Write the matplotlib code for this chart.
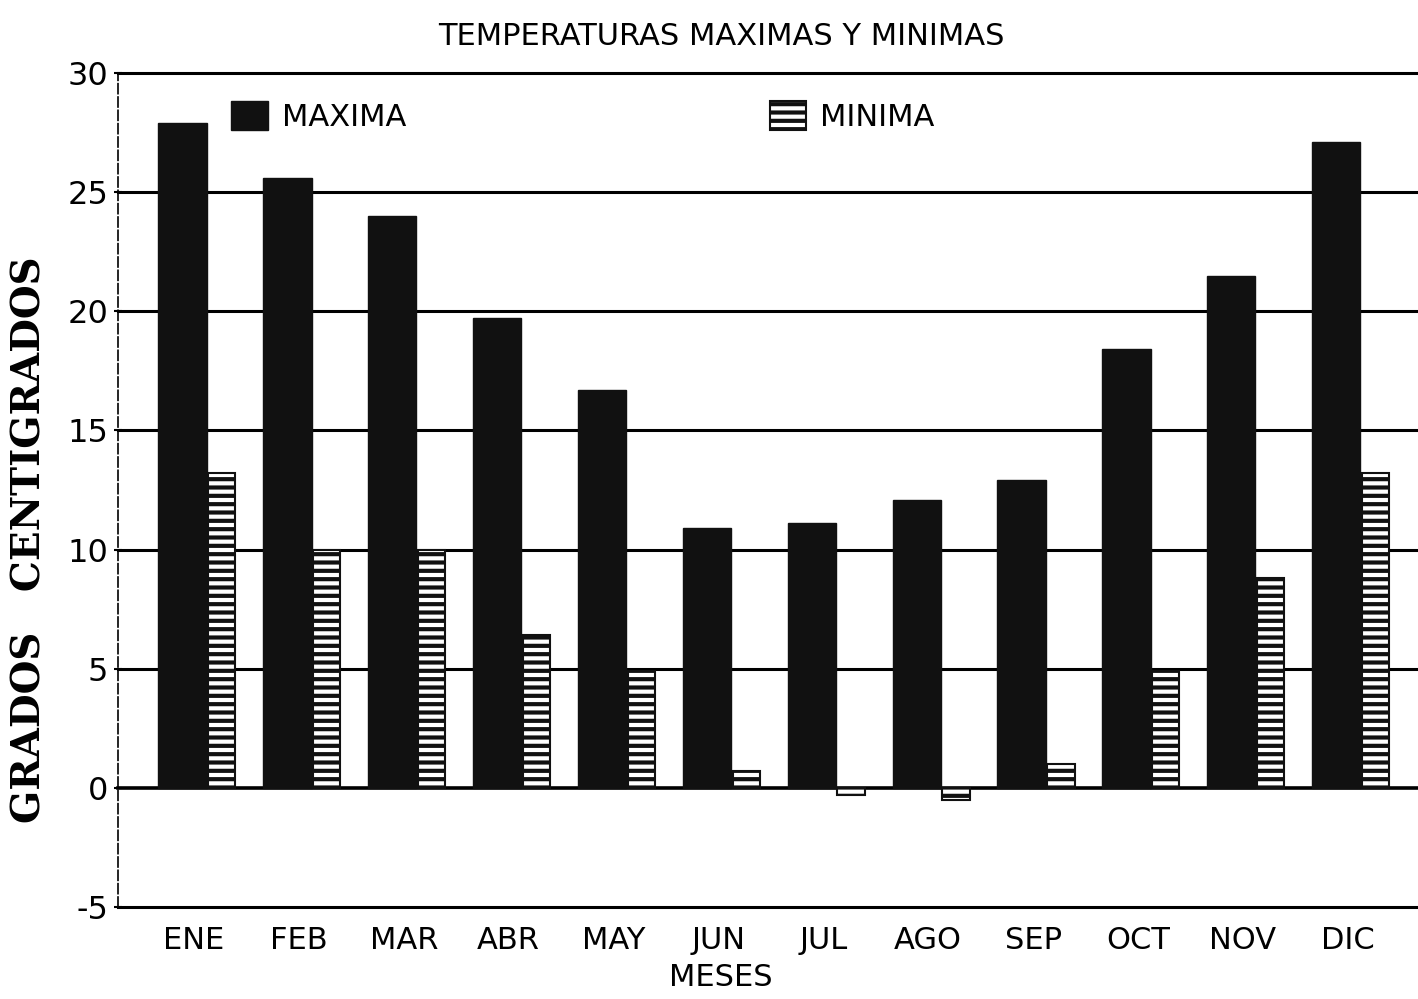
#!/usr/bin/env python
# coding: utf_8

import matplotlib
matplotlib.use("Agg")
import matplotlib.pyplot as plt
import numpy as np

months = ["ENE", "FEB", "MAR", "ABR", "MAY", "JUN",
          "JUL", "AGO", "SEP", "OCT", "NOV", "DIC"]
t_max = [27.9, 25.6, 24.0, 19.7, 16.7, 10.9, 11.1, 12.1, 12.9, 18.4, 21.5, 27.1]
t_min = [13.2, 10.0, 10.0, 6.4, 4.9, 0.7, -0.3, -0.5, 1.0, 4.9, 8.8, 13.2]
y_ticks = [-5, 0, 5, 10, 15, 20, 25, 30]

FONT = ["DejaVu Sans"]

plt.rcParams["hatch.linewidth"] = 3.0

fig = plt.figure(figsize=(14.18, 9.99), dpi=100)
ax = fig.add_axes([118 / 1418, 92 / 999, 1300 / 1418, 834 / 999])

x = np.arange(len(months))
b1 = ax.bar(x - 0.11, t_max, width=0.46, color="#111111", edgecolor="#111111",
            linewidth=1, zorder=3, label="MAXIMA")
b2 = ax.bar(x + 0.265, t_min, width=0.26, color="white", edgecolor="#111111",
            hatch="--", linewidth=1.5, zorder=3, label="MINIMA")

# Horizontal grid lines at every tick
for yv in y_ticks:
    ax.axhline(yv, color="black", lw=2.2 if yv != 0 else 2.6, zorder=2,
               clip_on=False)

ax.set_xlim(-0.725, 11.67)
ax.set_ylim(-5, 30)
ax.set_yticks(y_ticks)
ax.set_yticklabels([str(v) for v in y_ticks], family=FONT, fontsize=23)
ax.set_xticks(x)
ax.set_xticklabels(months, family=FONT, fontsize=22)
ax.tick_params(axis="x", length=0, pad=14)
ax.tick_params(axis="y", length=6, width=1.5, direction="inout", pad=4)

for side in ["top", "right", "bottom"]:
    ax.spines[side].set_visible(False)
ax.spines["left"].set_linestyle((0, (6, 2)))
ax.spines["left"].set_linewidth(1.2)

ax.set_title("TEMPERATURAS MAXIMAS Y MINIMAS", family=FONT, fontsize=22, pad=20,
             x=(721 - 118) / 1300)
fig.text(721 / 1418, 1 - 978 / 999, "MESES", family=FONT, fontsize=22,
         ha="center", va="center")
fig.text(30 / 1418, 1 - 540 / 999, "GRADOS   CENTIGRADOS", family="DejaVu Serif",
         fontweight="bold", fontsize=28, rotation=90, ha="center", va="center")

leg = ax.legend(handles=[b1, b2], ncol=2, loc="center left",
                bbox_to_anchor=(0.066, 0.948), frameon=False,
                prop={"family": FONT, "size": 22}, handlelength=1.2,
                handleheight=1.1, handletextpad=0.45, columnspacing=11.9)

fig.savefig("out.png", dpi=100)
